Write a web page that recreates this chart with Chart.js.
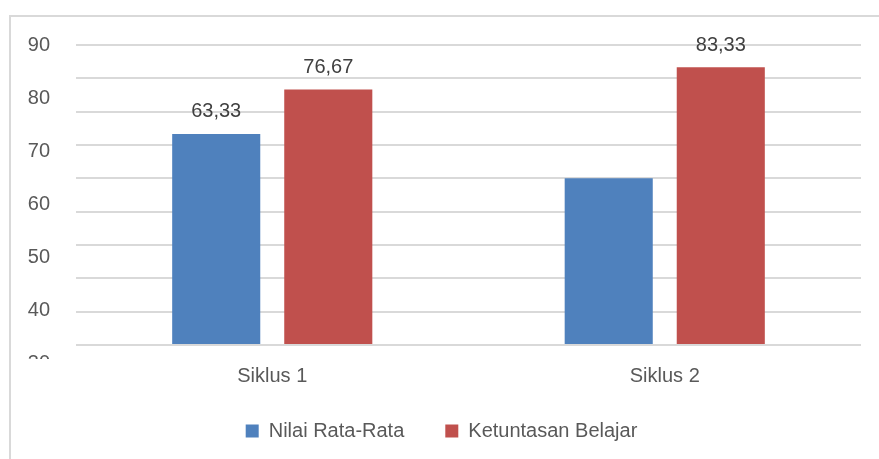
<!DOCTYPE html>
<html>
<head>
<meta charset="utf-8">
<title>Siklus</title>
<script src="https://cdn.jsdelivr.net/npm/chart.js@4.4.0/dist/chart.umd.min.js"></script>
<style>
  html, body { margin: 0; padding: 0; background: #fff; overflow: hidden; }
  #frame { position: absolute; left: 9px; top: 15px; width: 900px; height: 460px;
           border-left: 2px solid #d9d9d9; border-top: 2px solid #d9d9d9; }
  #wrap { position: absolute; left: 0; top: 0; width: 879px; height: 459px; }
</style>
</head>
<body>
<div id="frame"></div>
<div id="wrap"><canvas id="myChart"></canvas></div>
<script>
var categories = ['Siklus 1', 'Siklus 2'];
var nilaiRataRata = [63.33, 50];
var ketuntasanBelajar = [76.67, 83.33];
// which bars carry a value label
var showNilai = [true, false];
var showKetuntasan = [true, true];
// labels printed down the left side
var sideTicks = [90, 80, 70, 60, 50, 40, 30];

var FONT = '"Liberation Sans", Arial, sans-serif';
var TEXT = '#595959';

// value labels above the bars
var valueLabels = {
  id: 'valueLabels',
  afterDatasetsDraw: function(chart) {
    var ctx = chart.ctx;
    ctx.save();
    ctx.font = '20px ' + FONT;
    ctx.fillStyle = '#404040';
    ctx.textAlign = 'center';
    ctx.textBaseline = 'middle';
    chart.data.datasets.forEach(function(ds, i) {
      var meta = chart.getDatasetMeta(i);
      meta.data.forEach(function(bar, j) {
        if (!ds.showLabel[j]) return;
        ctx.fillText(ds.data[j].toFixed(2).replace('.', ','), bar.x, bar.y - 22);
      });
    });
    ctx.restore();
  }
};

// pull the legend up closer to the category labels
var legendUp = {
  id: 'legendUp',
  afterLayout: function(chart) {
    var lg = chart.legend, x = chart.scales.x;
    var shift = lg.top - (x.top + 35);
    lg.top -= shift;
    lg.bottom -= shift;
  }
};

// the lowest side label is cut off in the original
var cutSide = {
  id: 'cutSide',
  afterDraw: function(chart) {
    var s = chart.scales.y2, a = chart.chartArea;
    var ctx = chart.ctx;
    ctx.save();
    ctx.fillStyle = '#fff';
    ctx.fillRect(s.left, a.bottom + 14, a.left - s.left - 2, 30);
    ctx.restore();
  }
};

var chart = new Chart(document.getElementById('myChart'), {
  type: 'bar',
  data: {
    labels: categories,
    datasets: [{
      label: 'Nilai Rata-Rata',
      data: nilaiRataRata,
      showLabel: showNilai,
      backgroundColor: '#4f81bd',
      yAxisID: 'y'
    }, {
      label: 'Ketuntasan Belajar',
      data: ketuntasanBelajar,
      showLabel: showKetuntasan,
      backgroundColor: '#c0504d',
      yAxisID: 'y'
    }]
  },
  options: {
    responsive: true,
    maintainAspectRatio: false,
    animation: false,
    datasets: { bar: { categoryPercentage: 0.571, barPercentage: 0.786 } },
    layout: { padding: { left: 22, right: 18, top: 45, bottom: 0 } },
    plugins: {
      legend: {
        position: 'bottom',
        labels: { boxWidth: 13, boxHeight: 13, padding: 41, color: TEXT,
                  font: { family: FONT, size: 20 } }
      },
      tooltip: { enabled: false }
    },
    scales: {
      x: {
        grid: { display: false, drawTicks: false },
        border: { display: false },
        ticks: { color: TEXT, padding: 19, font: { family: FONT, size: 20 } },
        afterFit: function(s) { s.height = 43; }
      },
      y: {
        position: 'left',
        min: 0, max: 90,
        ticks: { display: false, stepSize: 10 },
        grid: { color: '#d9d9d9', lineWidth: 2, drawTicks: false },
        border: { display: false },
        afterFit: function(s) { s.width = 0; }
      },
      y2: {
        position: 'left',
        min: 33.4, max: 90,
        grid: { display: false, drawTicks: false },
        border: { display: false },
        ticks: { color: TEXT, padding: 26, autoSkip: false, font: { family: FONT, size: 20 } },
        afterBuildTicks: function(s) {
          s.ticks = sideTicks.map(function(v) { return { value: v }; });
        },
        afterFit: function(s) { s.width = 54; }
      }
    }
  },
  plugins: [valueLabels, legendUp, cutSide]
});
</script>
</body>
</html>
